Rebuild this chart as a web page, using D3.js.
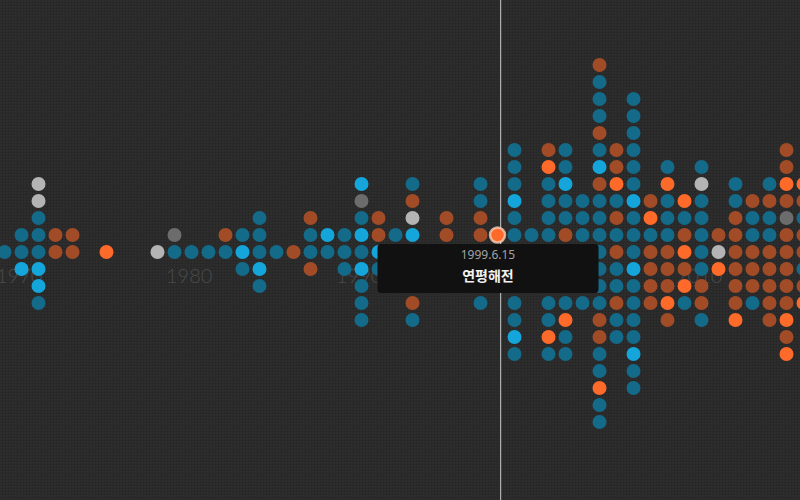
<!DOCTYPE html>
<html><head><meta charset="utf-8">
<script src="https://cdn.jsdelivr.net/npm/d3@7"></script>
<style>html,body{margin:0;padding:0;background:#2a2a2a;overflow:hidden}</style>
</head><body><svg id="c" width="800" height="500"></svg>
<script>
// ---- data ----
const years = d3.range(1970, 2018);
// events per year stacked upward from the centre row (first char = centre row)
const above = ["T","TT","TTTGG","BB","BB","","O","","","G",
  "TD","T","T","TB","CT","TTT","T","B","TTB","TC",
  "TT","TCTDC","CBB","TT","TCGBT","T","TBB","B","TBBTT","TO",
  "TTTCTTT","TT","TTTTTOB","TBTTCTT","TTTT","TTTTBCTBTTTB","BTBTOBB","TTTCTTTTTT","BTOB","BTTTOT",
  "OBTO","TTTTGT","GB","BBBTT","BTTB","BTTBT","BBDBOBB","BBTBO"];
// events per year stacked downward below the centre row
const below = ["","C","CCT","","","","","","","",
  "","","","","T","CT","","","B","",
  "T","CTTT","T","","TTBT","","","","TTT","T",
  "TTTTCT","T","TTTTOT","TTTOTT","TTT","TTTBBTTOTT","TTBTT","CTTTTCTT","BBB","BBOB",
  "BOT","TBBT","O","BBBO","BBT","BBBB","BBBOBO","TBO"];
const tickYears = [1970, 1980, 1990, 2000, 2010];
const categories = ["T","C","B","O","G","D"];
const categoryColors = ["#136a89","#14a6da","#a24c27","#fd6a2a","#b4b4b4","#6c6c6c"];
const highlightYear = 1999, highlightIndex = 1;
const cursorDate = new Date(1999, 5, 15);
const tipDate = "1999.6.15", tipTitle = "연평해전";

// ---- chart ----
const W = 800, H = 500;
const svg = d3.select("#c");
const defs = svg.append("defs");
const pat = defs.append("pattern").attr("id","tex").attr("width",3).attr("height",3)
  .attr("patternUnits","userSpaceOnUse");
pat.append("rect").attr("width",3).attr("height",3).attr("fill","#2a2a2a");
pat.append("rect").attr("x",0).attr("y",0).attr("width",1).attr("height",1).attr("fill","#313131");
pat.append("rect").attr("x",1).attr("y",1).attr("width",1).attr("height",1).attr("fill","#2e2e2e");
pat.append("rect").attr("x",2).attr("y",2).attr("width",1).attr("height",1).attr("fill","#242424");
svg.append("rect").attr("width",W).attr("height",H).attr("fill","url(#tex)");

const band = d3.scaleBand().domain(years).range([-4, -4 + 17*years.length]);
const xt = d3.scaleTime().domain([new Date(1970,0,1), new Date(2018,0,1)]).range([0, 816]);
const y = d3.scaleLinear().domain([0, 1]).range([252, 235]);
const color = d3.scaleOrdinal().domain(categories).range(categoryColors);

// year labels
svg.append("g").selectAll("text").data(tickYears).join("text")
  .attr("x", d => band(d)).attr("y", 283)
  .attr("font-family","Lato, 'Open Sans', sans-serif").attr("font-weight",300)
  .attr("font-size",20).attr("fill","#4a4a4a").text(d => d);

// cursor line
svg.append("line").attr("x1", xt(cursorDate)).attr("x2", xt(cursorDate))
  .attr("y1",0).attr("y2",H).attr("stroke","#c8c8c8").attr("stroke-width",1);

// dots
const dots = [];
years.forEach((yr, i) => {
  above[i].split("").forEach((c, j) => dots.push({year: yr, row: j, cat: c}));
  below[i].split("").forEach((c, j) => dots.push({year: yr, row: -1 - j, cat: c}));
});
const cx = d => band(d) + band.bandwidth()/2;
svg.append("g").selectAll("circle").data(dots).join("circle")
  .attr("cx", d => cx(d.year)).attr("cy", d => y(d.row)).attr("r", 7)
  .attr("fill", d => color(d.cat));

// highlight
const hx = cx(highlightYear), hy = y(highlightIndex);
svg.append("circle").attr("cx",hx).attr("cy",hy).attr("r",7.5)
  .attr("fill", color(above[highlightYear-1970][highlightIndex]))
  .attr("stroke","rgba(255,215,195,0.75)").attr("stroke-width",2.5);

// tooltip
const tw = 221, th = 49, tcx = hx - 9.5, ttop = hy + 9;
const tip = svg.append("g");
tip.append("rect").attr("x", tcx - tw/2).attr("y", ttop).attr("width", tw).attr("height", th)
  .attr("rx", 4).attr("fill", "#111111");
tip.append("text").attr("x", tcx).attr("y", ttop + 15).attr("text-anchor","middle")
  .attr("font-family","'Noto Sans', 'Open Sans', sans-serif").attr("font-size",12)
  .attr("fill","#a3a3a3").text(tipDate);
tip.append("text").attr("x", tcx).attr("y", ttop + 37).attr("text-anchor","middle")
  .attr("font-family","'Noto Sans CJK KR', sans-serif").attr("font-weight","bold").attr("font-size",14)
  .attr("fill","#f2f2f2").text(tipTitle);
</script></body></html>
